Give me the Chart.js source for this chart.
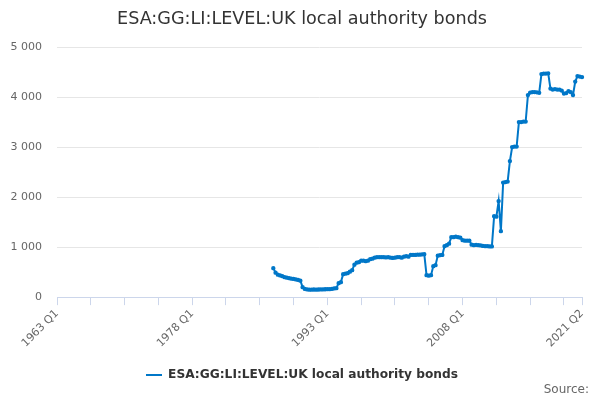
<!DOCTYPE html>
<html>
<head>
<meta charset="utf-8">
<script src="https://cdn.jsdelivr.net/npm/chart.js@4/dist/chart.umd.min.js"></script>
<style>
  body { margin: 0; background: #fff; }
  #wrap { width: 600px; height: 400px; }
</style>
</head>
<body>
<div id="wrap"><canvas id="myChart"></canvas></div>
<script>
// quarters 1963 Q1 .. 2021 Q2
let firstYear = 1963;
let lastYear = 2021;
let lastQuarter = 2;
let myLabels = [];
for (let y = firstYear; y <= lastYear; y++) {
    for (let q = 1; q <= 4; q++) {
        if (y === lastYear && q > lastQuarter) break;
        myLabels.push(y + ' Q' + q);
    }
}

// which quarter labels are written under the axis
let shownLabels = ['1963 Q1', '1978 Q1', '1993 Q1', '2008 Q1', '2021 Q2'];

// series starts in 1987 Q1, £ million
let seriesStart = '1987 Q1';
let seriesName = 'ESA:GG:LI:LEVEL:UK local authority bonds';
let seriesValues = [
    580, 490, 450, 435, 420, 400, 390, 380, 370, 365,
    355, 345, 330, 200, 165, 155, 150, 150, 152, 150,
    152, 155, 155, 158, 160, 160, 165, 175, 180, 280,
    300, 460, 470, 480, 510, 540, 650, 690, 700, 730,
    730, 720, 730, 760, 770, 790, 800, 800, 800, 800,
    795, 800, 790, 785, 790, 800, 800, 790, 810, 820,
    810, 845, 845, 845, 850, 850, 855, 860, 440, 430,
    440, 620, 640, 830, 840, 845, 1020, 1040, 1070, 1200,
    1200, 1210, 1200, 1190, 1140, 1130, 1130, 1130, 1050, 1040,
    1045, 1040, 1035, 1025, 1020, 1020, 1015, 1015, 1620, 1610,
    1920, 1320, 2290, 2300, 2310, 2720, 3000, 3010, 3010, 3500,
    3500, 3510, 3510, 4040, 4090, 4100, 4100, 4095, 4085, 4460,
    4470, 4470, 4475, 4170, 4150, 4160, 4150, 4150, 4130, 4070,
    4080, 4120, 4100, 4040, 4310, 4420, 4410, 4400
];

let yTicks = [0, 1000, 2000, 3000, 4000, 5000];

let startIdx = myLabels.indexOf(seriesStart);
let myData = myLabels.map((l, i) => i < startIdx ? null : seriesValues[i - startIdx]);

let lineColor = '#0077c8';
let fontFam = '"DejaVu Sans", sans-serif';

let sourceNote = {
    id: 'sourceNote',
    afterDraw(chart) {
        let c = chart.ctx;
        c.save();
        c.font = '12px ' + fontFam;
        c.fillStyle = '#666666';
        c.textAlign = 'right';
        c.textBaseline = 'middle';
        c.fillText('Source:', 589, 390);
        c.restore();
    }
};

let ctx = document.getElementById('myChart').getContext('2d');
let myChart = new Chart(ctx, {
    type: 'line',
    data: {
        labels: myLabels,
        datasets: [{
            label: seriesName,
            data: myData,
            borderColor: lineColor,
            backgroundColor: lineColor,
            borderWidth: 2,
            pointRadius: 1.2,
            pointBorderWidth: 2,
            pointBorderColor: lineColor,
            pointBackgroundColor: lineColor,
            tension: 0
        }]
    },
    options: {
        responsive: true,
        maintainAspectRatio: false,
        animation: false,
        layout: {
            padding: { left: 4, right: 0, top: 0, bottom: 9 }
        },
        plugins: {
            title: {
                display: true,
                text: seriesName,
                color: '#333333',
                font: { family: fontFam, size: 17.6, weight: 'normal' },
                padding: { top: 9, bottom: 17 }
            },
            legend: {
                position: 'bottom',
                labels: {
                    color: '#333333',
                    font: { family: fontFam, size: 12.2, weight: 'bold' },
                    usePointStyle: true,
                    pointStyle: 'line',
                    pointStyleWidth: 16,
                    boxHeight: 12,
                    padding: 8
                }
            },
            tooltip: { enabled: false }
        },
        scales: {
            x: {
                offset: false,
                border: { color: '#ccd6eb', width: 1 },
                grid: {
                    drawOnChartArea: false,
                    drawTicks: true,
                    tickLength: 8,
                    color: c => (c.index % 15 === 0 || c.index === myLabels.length - 1) ? '#ccd6eb' : 'rgba(0,0,0,0)'
                },
                ticks: {
                    autoSkip: false,
                    minRotation: 45,
                    maxRotation: 45,
                    color: '#666666',
                    font: { family: fontFam, size: 11 },
                    padding: 2,
                    callback: function (v, i) {
                        let l = myLabels[i];
                        return shownLabels.includes(l) ? l : '';
                    }
                },
                afterFit: s => { s.height += 9; }
            },
            y: {
                min: yTicks[0],
                max: yTicks[yTicks.length - 1],
                border: { display: false },
                grid: { color: '#e6e6e6', drawTicks: false },
                afterBuildTicks: s => { s.ticks = yTicks.map(v => ({ value: v })); },
                ticks: {
                    color: '#666666',
                    font: { family: fontFam, size: 11 },
                    padding: 15,
                    callback: v => String(v).replace(/\B(?=(\d{3})+(?!\d))/g, ' ')
                },
                afterFit: s => { s.width = 53; }
            },
            yRight: {
                type: 'linear',
                position: 'right',
                border: { display: false },
                grid: { display: false, drawTicks: false },
                ticks: { display: false },
                afterFit: s => { s.width = 18; }
            }
        }
    },
    plugins: [sourceNote]
});
</script>
</body>
</html>
